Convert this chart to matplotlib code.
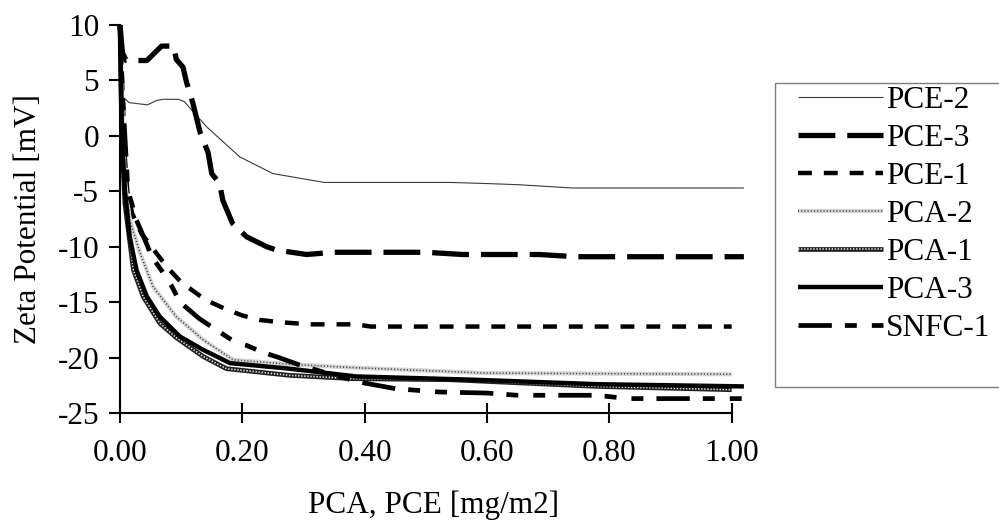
import numpy as np
import matplotlib
matplotlib.use('Agg')
import matplotlib.pyplot as plt
from matplotlib.patches import Rectangle
from matplotlib.ticker import FormatStrFormatter

plt.rcParams['font.family'] = ['Liberation Serif', 'DejaVu Serif']
plt.rcParams['axes.unicode_minus'] = False
plt.rcParams['lines.scale_dashes'] = False

# zeta potential [mV] against additive dosage [mg/m2]
pce2_x = [0.0, 0.005, 0.015, 0.045, 0.06, 0.07, 0.095, 0.105, 0.142, 0.196, 0.25, 0.334, 0.54, 0.6, 0.65, 0.74, 1.02]
pce2_y = [10.0, 3.5, 3.0, 2.8, 3.2, 3.3, 3.3, 3.1, 0.8, -1.9, -3.4, -4.2, -4.2, -4.3, -4.4, -4.7, -4.7]

pce3_x = [0.0, 0.004, 0.01, 0.044, 0.068, 0.088, 0.092, 0.103, 0.109, 0.119, 0.131, 0.144, 0.15, 0.163,
          0.168, 0.184, 0.207, 0.24, 0.256, 0.305, 0.35, 0.5, 0.56, 0.685, 0.745, 1.02]
pce3_y = [10.0, 7.5, 6.8, 6.8, 8.1, 8.1, 6.9, 6.2, 4.8, 3.0, 0.3, -1.5, -3.4, -4.3,
          -5.8, -7.9, -9.1, -10.0, -10.3, -10.7, -10.5, -10.5, -10.7, -10.7, -10.9, -10.9]

pce1_x = [0.0, 0.004, 0.008, 0.012, 0.02, 0.035, 0.057, 0.078, 0.10, 0.12, 0.14, 0.176, 0.2, 0.228,
          0.26, 0.31, 0.386, 0.41, 1.0]
pce1_y = [10.0, 4.0, -2.0, -5.0, -7.0, -8.8, -10.4, -11.9, -13.2, -14.0, -14.8, -15.7, -16.2, -16.6,
          -16.8, -17.0, -17.0, -17.2, -17.2]

pca2_x = [0.0, 0.004, 0.008, 0.016, 0.033, 0.054, 0.092, 0.136, 0.185, 0.277, 0.38, 0.6, 1.0]
pca2_y = [10.0, 2.0, -4.0, -7.6, -10.6, -13.6, -16.3, -18.4, -20.2, -20.6, -20.9, -21.4, -21.5]

pca1_x = [0.0, 0.003, 0.008, 0.022, 0.038, 0.065, 0.092, 0.136, 0.174, 0.277, 0.38, 0.54, 0.78, 1.0]
pca1_y = [10.0, 0.0, -6.1, -12.1, -14.5, -16.9, -18.2, -19.9, -21.0, -21.6, -21.9, -22.0, -22.6, -22.9]

pca3_x = [0.0, 0.003, 0.008, 0.016, 0.027, 0.044, 0.065, 0.098, 0.136, 0.18, 0.277, 0.386, 0.58, 0.78, 1.02]
pca3_y = [10.0, 0.0, -4.9, -9.1, -12.1, -14.5, -16.3, -18.1, -19.3, -20.5, -21.0, -21.7, -22.0, -22.4, -22.6]

snfc1_x = [0.0, 0.004, 0.009, 0.013, 0.027, 0.044, 0.052, 0.07, 0.085, 0.098, 0.13, 0.163, 0.188, 0.207,
           0.232, 0.26, 0.29, 0.35, 0.40, 0.45, 0.52, 0.6, 0.65, 0.78, 0.83, 1.02]
snfc1_y = [10.0, 4.0, -1.0, -4.9, -7.6, -9.8, -10.9, -12.3, -13.6, -15.0, -16.5, -17.7, -18.6, -18.9,
           -19.5, -20.0, -20.6, -21.6, -22.3, -22.8, -23.1, -23.2, -23.4, -23.4, -23.7, -23.7]

labels = ['PCE-2', 'PCE-3', 'PCE-1', 'PCA-2', 'PCA-1', 'PCA-3', 'SNFC-1']

fs = 22.5
fig = plt.figure(figsize=(9.99, 5.26), dpi=100)
ax = fig.add_axes([0.1201, 0.2148, 0.6276, 0.7376])

kw = dict(clip_on=False, dash_capstyle='butt', solid_capstyle='butt')
h_pce2, = ax.plot(pce2_x, pce2_y, color='#3a3a3a', lw=0.8, **kw)
h_pce3, = ax.plot(pce3_x, pce3_y, color='black', lw=3.8, dashes=(26.5, 8.6), **kw)
h_pce1, = ax.plot(pce1_x, pce1_y, color='black', lw=3.2, dashes=(10, 8.6), **kw)
# patterned lines: a base stroke with a dotted stroke on top
pca2_a, = ax.plot(pca2_x, pca2_y, color='#d4d4d4', lw=3.0, **kw)
pca2_b, = ax.plot(pca2_x, pca2_y, color='#404040', lw=1.1, dashes=(0.8, 1.5), **kw)
pca1_a, = ax.plot(pca1_x, pca1_y, color='#202020', lw=3.4, **kw)
pca1_b, = ax.plot(pca1_x, pca1_y, color='#e0e0e0', lw=1.2, dashes=(1.0, 1.2), **kw)
h_pca3, = ax.plot(pca3_x, pca3_y, color='black', lw=3.2, **kw)
h_snfc1, = ax.plot(snfc1_x, snfc1_y, color='black', lw=3.4, dashes=(24, 9.4, 8.6, 10.8, 8.6, 9.4), **kw)

ax.set_xlim(0, 1.025)
ax.set_ylim(-25, 10)
ax.set_xticks(np.arange(0, 1.01, 0.2))
ax.set_yticks(np.arange(-25, 11, 5))
ax.xaxis.set_major_formatter(FormatStrFormatter('%.2f'))

for s in ['top', 'right']:
    ax.spines[s].set_visible(False)
for s in ['left', 'bottom']:
    ax.spines[s].set_linewidth(1.5)
ax.spines['bottom'].set_bounds(0, 1.0)

ax.tick_params(axis='x', direction='inout', length=15, width=1.5, pad=11, labelsize=fs)
ax.tick_params(axis='y', direction='out', length=8, width=1.5, pad=7, labelsize=fs)

ax.set_ylabel('Zeta Potential [mV]', fontsize=fs)
ax.yaxis.set_label_coords(-0.123, 0.5)
ax.set_xlabel('PCA, PCE [mg/m2]', fontsize=fs)
ax.xaxis.set_label_coords(0.5, -0.201)

# legend frame drawn separately so the padding can differ per side
fig.patches.append(Rectangle((775 / 999, 1 - 387 / 526), 240 / 999, 304 / 526,
                             transform=fig.transFigure, fill=False,
                             edgecolor='#7f7f7f', lw=1.0))
handles = [h_pce2, h_pce3, h_pce1, (pca2_a, pca2_b), (pca1_a, pca1_b), h_pca3, h_snfc1]
fig.legend(handles, labels, loc='upper left', bbox_to_anchor=(798 / 999, 1 - 85.7 / 526),
           bbox_transform=fig.transFigure, frameon=False, fontsize=fs, borderpad=0,
           borderaxespad=0, labelspacing=0.29, handlelength=2.72, handletextpad=0.1)

fig.savefig('out.png', dpi=100)
